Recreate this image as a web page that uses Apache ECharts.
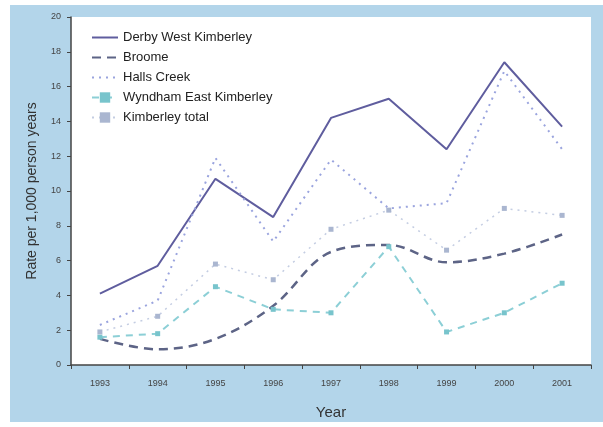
<!DOCTYPE html>
<html>
<head>
    <meta charset="utf-8">
    <title>Kimberley rates</title>
    <script src="https://cdn.jsdelivr.net/npm/echarts@6/dist/echarts.min.js"></script>
</head>
<body style="margin:0;background:#fff;">
<div id="main" style="width: 603px;height:427px;"></div>
<script type="text/javascript">
    var years = ['1993', '1994', '1995', '1996', '1997', '1998', '1999', '2000', '2001'];
    var derby = [4.1, 5.7, 10.7, 8.5, 14.2, 15.3, 12.4, 17.4, 13.7];
    var broome = [1.5, 0.9, 1.5, 3.4, 6.5, 6.9, 5.9, 6.4, 7.5];
    var hallsCreek = [2.3, 3.7, 11.9, 7.1, 11.8, 9.0, 9.3, 16.9, 12.4];
    var wyndham = [1.6, 1.8, 4.5, 3.2, 3.0, 6.8, 1.9, 3.0, 4.7];
    var kimberleyTotal = [1.9, 2.8, 5.8, 4.9, 7.8, 8.9, 6.6, 9.0, 8.6];

    var myChart = echarts.init(document.getElementById('main'));
    var font = 'Liberation Sans, Arial, sans-serif';

    var option = {
        backgroundColor: '#fff',
        animation: false,
        graphic: [{
            type: 'rect',
            z: -10,
            shape: {x: 10, y: 5, width: 593, height: 417},
            style: {fill: '#b3d5ea'}
        }],
        grid: {
            left: 71,
            right: 12,
            top: 17,
            bottom: 62,
            show: true,
            backgroundColor: '#fff',
            borderWidth: 0
        },
        legend: {
            orient: 'vertical',
            left: 86,
            top: 26,
            itemGap: 7,
            itemWidth: 26,
            itemHeight: 13,
            textStyle: {fontFamily: font, fontSize: 13, color: '#222'},
            data: [
                {name: 'Derby West Kimberley', itemStyle: {opacity: 0}},
                {name: 'Broome', itemStyle: {opacity: 0}},
                {name: 'Halls Creek', itemStyle: {opacity: 0}},
                {name: 'Wyndham East Kimberley'},
                {name: 'Kimberley total'}
            ]
        },
        xAxis: {
            type: 'category',
            data: years,
            boundaryGap: true,
            name: 'Year',
            nameLocation: 'middle',
            nameGap: 40,
            nameTextStyle: {fontFamily: font, fontSize: 15, color: '#333'},
            axisLine: {lineStyle: {color: '#444', width: 1.5}},
            axisTick: {show: true, length: 4, lineStyle: {color: '#444'}},
            axisLabel: {fontFamily: font, fontSize: 9, color: '#444', margin: 14},
            splitLine: {show: false}
        },
        yAxis: {
            type: 'value',
            min: 0,
            max: 20,
            interval: 2,
            name: 'Rate per 1,000 person years',
            nameLocation: 'middle',
            nameGap: 32,
            nameTextStyle: {fontFamily: font, fontSize: 14, color: '#333'},
            axisLine: {show: true, lineStyle: {color: '#444', width: 1.5}},
            axisTick: {show: true, length: 4, lineStyle: {color: '#444'}},
            axisLabel: {fontFamily: font, fontSize: 9, color: '#444', margin: 10},
            splitLine: {show: false}
        },
        series: [{
            name: 'Derby West Kimberley',
            type: 'line',
            symbol: 'none',
            color: '#5f5d9e',
            lineStyle: {width: 2, color: '#5f5d9e'},
            data: derby
        }, {
            name: 'Broome',
            type: 'line',
            symbol: 'none',
            smooth: 0.35,
            color: '#5d6486',
            lineStyle: {width: 2.5, type: [9, 6], color: '#5d6486'},
            data: broome
        }, {
            name: 'Halls Creek',
            type: 'line',
            symbol: 'none',
            color: '#9aa4de',
            lineStyle: {width: 2, type: [2, 5], color: '#9aa4de'},
            data: hallsCreek
        }, {
            name: 'Wyndham East Kimberley',
            type: 'line',
            symbol: 'rect',
            symbolSize: 5,
            color: '#78c4cc',
            itemStyle: {color: '#78c4cc'},
            lineStyle: {width: 2, type: [7, 6], color: '#8ccfd6'},
            data: wyndham
        }, {
            name: 'Kimberley total',
            type: 'line',
            symbol: 'rect',
            symbolSize: 5,
            color: '#b4bfd6',
            itemStyle: {color: '#aab6d0'},
            lineStyle: {width: 1.5, type: [2, 5], color: '#c4cde2'},
            data: kimberleyTotal
        }]
    };

    myChart.setOption(option);
</script>
</body>
</html>
